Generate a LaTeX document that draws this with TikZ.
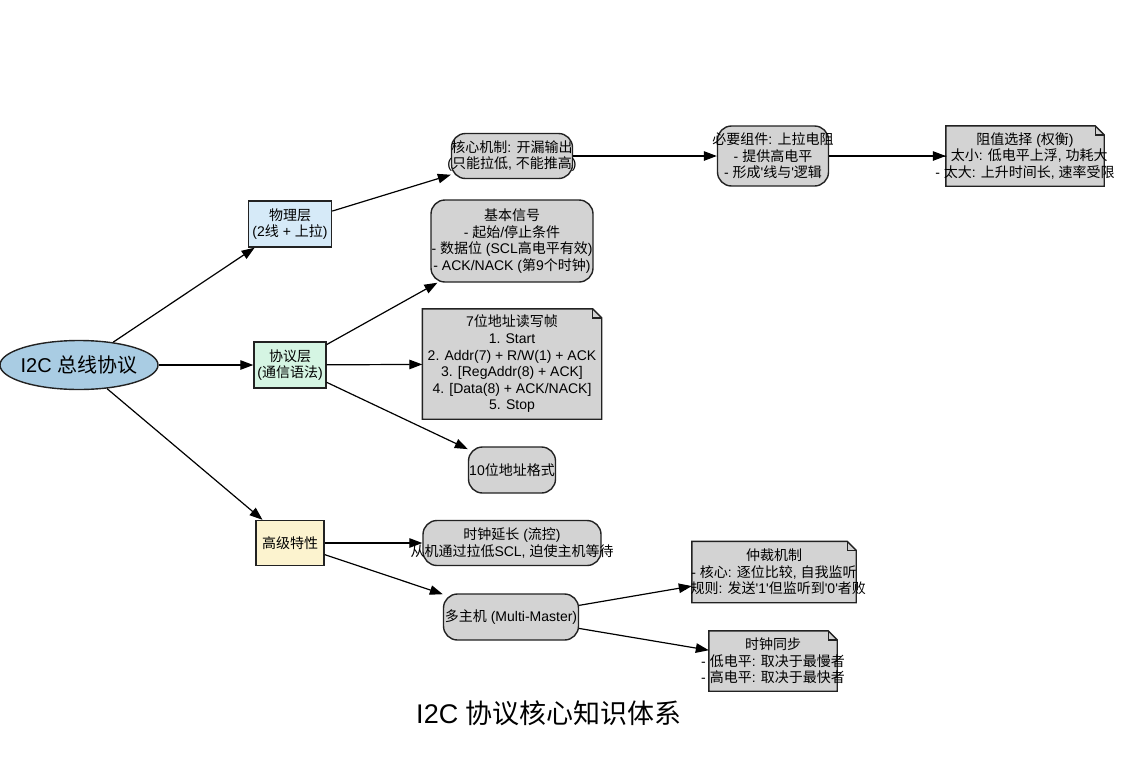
\documentclass[tikz,border=0pt]{standalone}
\usepackage{fontspec}
\newfontfamily\arial{Liberation Sans}
\newfontfamily\cjk{Noto Sans CJK SC}
\newcommand\zh[1]{{\cjk #1}}
\usetikzlibrary{arrows.meta,shapes.geometric}
\definecolor{rootc}{HTML}{A9CCE3}
\definecolor{phyc}{HTML}{D6EAF8}
\definecolor{protc}{HTML}{D5F5E3}
\definecolor{advc}{HTML}{FCF3CF}
\definecolor{grayc}{HTML}{D3D3D3}
\definecolor{linec}{HTML}{222222}
\newcommand\notedraw[1]{%
  \draw[notestyle] (#1.south west) -- (#1.north west) -- ([xshift=-9pt]#1.north east) -- ([yshift=-9pt]#1.north east) -- (#1.south east) -- cycle;
  \draw[notestyle,fill=none] ([xshift=-9pt]#1.north east) -- ([xshift=-9pt,yshift=-9pt]#1.north east) -- ([yshift=-9pt]#1.north east);}
\begin{document}
\begin{tikzpicture}[x=1pt,y=-1pt,
  shapebase/.style={draw=linec, line width=1.4pt, inner sep=0pt},
  sqbox/.style={shapebase, rectangle},
  rbox/.style={shapebase, rectangle, rounded corners=14pt, fill=grayc},
  holder/.style={rectangle, inner sep=0pt},
  notestyle/.style={draw=linec, line width=1.4pt, fill=grayc, line join=miter},
  txt/.style={align=center, inner sep=0pt, font=\arial\fontsize{14}{16.6}\selectfont},
  edge/.style={draw=black, -{Triangle[length=13pt,width=9.5pt]}, line width=1.2pt}]
\useasboundingbox (0,0) rectangle (1123,758);
% shapes
\node[shapebase, ellipse, fill=rootc, minimum width=158pt, minimum height=49pt] (root) at (79,365) {};
\node[sqbox, fill=phyc, minimum width=83pt, minimum height=46pt] (phy) at (290,224) {};
\node[sqbox, fill=protc, minimum width=72pt, minimum height=46pt] (prot) at (290,365) {};
\node[sqbox, fill=advc, minimum width=68pt, minimum height=45pt] (adv) at (290,543) {};
\node[rbox, minimum width=121pt, minimum height=45pt] (core) at (512,156) {};
\node[rbox, minimum width=111pt, minimum height=60pt] (pull) at (773,156) {};
\node[holder, minimum width=158pt, minimum height=60pt] (res) at (1025,156) {};
\notedraw{res}
\node[rbox, minimum width=162pt, minimum height=82pt] (sig) at (512,241) {};
\node[holder, minimum width=179pt, minimum height=110pt] (frame) at (512,364) {};
\notedraw{frame}
\node[rbox, minimum width=87pt, minimum height=46pt] (ten) at (512,470) {};
\node[rbox, minimum width=178pt, minimum height=45pt] (stretch) at (512,543) {};
\node[rbox, minimum width=135pt, minimum height=46pt] (multi) at (511,617) {};
\node[holder, minimum width=164pt, minimum height=61pt] (arb) at (774,572) {};
\notedraw{arb}
\node[holder, minimum width=128pt, minimum height=60pt] (sync) at (773,661) {};
\notedraw{sync}
% texts
\node[txt, font=\arial\fontsize{20}{24}\selectfont] (troot) at (root) {I2C \zh{总线协议}};
\node[txt] (tphy) at (phy) {\zh{物理层}\\(2\zh{线} + \zh{上拉})};
\node[txt] (tprot) at (prot) {\zh{协议层}\\(\zh{通信语法})};
\node[txt] (tadv) at (adv) {\zh{高级特性}};
\node[txt] (tcore) at (core) {\zh{核心机制}: \zh{开漏输出}\\(\zh{只能拉低}, \zh{不能推高})};
\node[txt] (tpull) at (pull) {\zh{必要组件}: \zh{上拉电阻}\\- \zh{提供高电平}\\- \zh{形成}'\zh{线与}'\zh{逻辑}};
\node[txt] (tres) at (res) {\zh{阻值选择} (\zh{权衡})\\- \zh{太小}: \zh{低电平上浮}, \zh{功耗大}\\- \zh{太大}: \zh{上升时间长}, \zh{速率受限}};
\node[txt] (tsig) at (sig) {\zh{基本信号}\\- \zh{起始}/\zh{停止条件}\\- \zh{数据位} (SCL\zh{高电平有效})\\- ACK/NACK (\zh{第}9\zh{个时钟})};
\node[txt] (tframe) at (frame) {7\zh{位地址读写帧}\\1. Start\\2. Addr(7) + R/W(1) + ACK\\3. [RegAddr(8) + ACK]\\4. [Data(8) + ACK/NACK]\\5. Stop};
\node[txt] (tten) at (ten) {10\zh{位地址格式}};
\node[txt] (tstretch) at (stretch) {\zh{时钟延长} (\zh{流控})\\\zh{从机通过拉低}SCL, \zh{迫使主机等待}};
\node[txt] (tmulti) at (multi) {\zh{多主机} (Multi-Master)};
\node[txt] (tarb) at (arb) {\zh{仲裁机制}\\- \zh{核心}: \zh{逐位比较}, \zh{自我监听}\\- \zh{规则}: \zh{发送}'1'\zh{但监听到}'0'\zh{者败}};
\node[txt] (tsync) at (sync) {\zh{时钟同步}\\- \zh{低电平}: \zh{取决于最慢者}\\- \zh{高电平}: \zh{取决于最快者}};
\node[txt, font=\arial\fontsize{27}{32}\selectfont] (title) at (549,713) {I2C \zh{协议核心知识体系}};
% edges
\draw[edge] (root) -- (phy);
\draw[edge] (root) -- (prot);
\draw[edge] (root) -- (adv);
\draw[edge] (phy) -- (core);
\draw[edge] (core) -- (pull);
\draw[edge] (pull) -- (res);
\draw[edge] (prot) -- (sig);
\draw[edge] (prot) -- (frame);
\draw[edge] (prot) -- (ten);
\draw[edge] (adv) -- (stretch);
\draw[edge] (adv) -- (multi);
\draw[edge] (multi) -- (arb);
\draw[edge] (multi) -- (sync);
\end{tikzpicture}
\end{document}
